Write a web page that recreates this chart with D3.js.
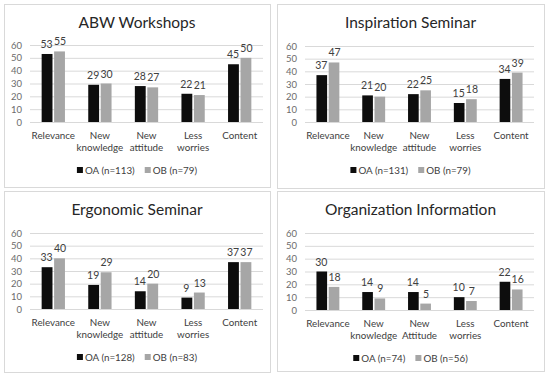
<html>
<script src='https://d3js.org/d3.v7.min.js'></script>
<style>
  body {margin: 0; background: white;}
  text {font-family: Lato, 'Open Sans', sans-serif;}
</style>
<body onload='init()'>
<svg width=550 height=379></svg>
<script>
// chart values
const titles = ['ABW Workshops', 'Inspiration Seminar', 'Ergonomic Seminar', 'Organization Information'];
const categories = ['Relevance', 'New knowledge', 'New attitude', 'Less worries', 'Content'];
const categoriesOrg = ['Relevance', 'New knowledge', 'New Attitude', 'Less worries', 'Content'];
const abwOA = [53, 29, 28, 22, 45];
const abwOB = [55, 30, 27, 21, 50];
const inspOA = [37, 21, 22, 15, 34];
const inspOB = [47, 20, 25, 18, 39];
const ergoOA = [33, 19, 14, 9, 37];
const ergoOB = [40, 29, 20, 13, 37];
const orgOA = [30, 14, 14, 10, 22];
const orgOB = [18, 9, 5, 7, 16];
const legendOA = ['OA (n=113)', 'OA (n=131)', 'OA (n=128)', 'OA (n=74)'];
const legendOB = ['OB (n=79)', 'OB (n=79)', 'OB (n=83)', 'OB (n=56)'];
const yTicks = [0, 10, 20, 30, 40, 50, 60];

function init() {
    const svg = d3.select('svg');

    // panel boxes and plot areas
    const panels = [
        {box: [4, 4, 270, 187], px: [30, 263], py: [122, 45], cats: categories, oa: abwOA, ob: abwOB},
        {box: [277, 4, 544, 188], px: [305, 534], py: [122, 46], cats: categories, oa: inspOA, ob: inspOB},
        {box: [4, 191, 270, 372], px: [30, 263], py: [309, 233], cats: categories, oa: ergoOA, ob: ergoOB},
        {box: [277, 191, 544, 371], px: [305, 534], py: [310, 233], cats: categoriesOrg, oa: orgOA, ob: orgOB}
    ];
    const colors = {OA: '#0d0d0d', OB: '#a6a6a6'};

    panels.forEach((p, i) => {
        const g = svg.append('g');
        const [x0, y0, x1, y1] = p.box;
        const cx = (x0 + x1) / 2;

        g.append('rect')
          .attr('x', x0 + 0.5).attr('y', y0 + 0.5)
          .attr('width', x1 - x0).attr('height', y1 - y0)
          .attr('fill', 'white').attr('stroke', '#d9d9d9');

        g.append('text')
          .attr('x', cx).attr('y', y0 + 24)
          .attr('text-anchor', 'middle')
          .attr('font-size', 15.5).attr('fill', '#262626')
          .text(titles[i]);

        const x = d3.scaleBand().domain(p.cats).range(p.px).paddingInner(0.5).paddingOuter(0.25);
        const xs = d3.scaleBand().domain(['OA', 'OB']).range([0, x.bandwidth()]).paddingInner(0.13);
        const y = d3.scaleLinear().domain([0, 60]).range(p.py);

        // gridlines + y labels
        const yAxis = g.append('g')
          .attr('transform', 'translate(' + p.px[0] + ',0)')
          .call(d3.axisLeft(y).tickValues(yTicks).tickSize(-(p.px[1] - p.px[0])).tickPadding(8));
        yAxis.select('.domain').remove();
        yAxis.selectAll('line').attr('stroke', '#d9d9d9');
        yAxis.selectAll('text').attr('font-size', 9.5).attr('fill', '#6b6b6b')
          .style('font-family', 'Lato, sans-serif');

        const rows = p.cats.map((c, j) => ({c: c, OA: p.oa[j], OB: p.ob[j]}));
        const grp = g.selectAll('.grp').data(rows).enter().append('g')
          .attr('transform', d => 'translate(' + x(d.c) + ',0)');

        ['OA', 'OB'].forEach(k => {
            grp.append('rect')
              .attr('x', xs(k)).attr('width', xs.bandwidth())
              .attr('y', d => y(d[k])).attr('height', d => y(0) - y(d[k]))
              .attr('fill', colors[k]);
            grp.append('text')
              .attr('x', xs(k) + xs.bandwidth() / 2 + (k == 'OA' ? -0.5 : 0.5))
              .attr('y', d => y(d[k]) - 6)
              .attr('text-anchor', 'middle')
              .attr('font-size', 10.5).attr('fill', '#404040')
              .text(d => d[k]);
        });

        // category labels (wrapped at the space for two-word names)
        grp.append('text')
          .attr('text-anchor', 'middle')
          .attr('font-size', 9.8).attr('fill', '#404040')
          .attr('x', x.bandwidth() / 2)
          .each(function(d) {
              const words = d.c.split(' ');
              const t = d3.select(this);
              words.forEach((w, wi) => {
                  t.append('tspan')
                    .attr('x', x.bandwidth() / 2)
                    .attr('y', p.py[0] + 17 + wi * 12)
                    .text(w);
              });
          });

        // legend
        const leg = g.append('g').attr('transform', 'translate(0,' + (p.py[0] + 52) + ')');
        const items = [[legendOA[i], colors.OA], [legendOB[i], colors.OB]];
        let off = 0;
        const parts = [];
        items.forEach(it => {
            const s = leg.append('g');
            s.append('rect').attr('x', 0).attr('y', -7).attr('width', 6).attr('height', 6).attr('fill', it[1]);
            const t = s.append('text').attr('x', 8).attr('y', 0)
              .attr('font-size', 9.8).attr('fill', '#404040').text(it[0]);
            const w = 8 + t.node().getComputedTextLength();
            parts.push([s, off]);
            off += w + 10;
        });
        const total = off - 10;
        parts.forEach(([s, o]) => s.attr('transform', 'translate(' + (cx - total / 2 + o) + ',0)'));
    });
}
</script>
</body>
</html>
